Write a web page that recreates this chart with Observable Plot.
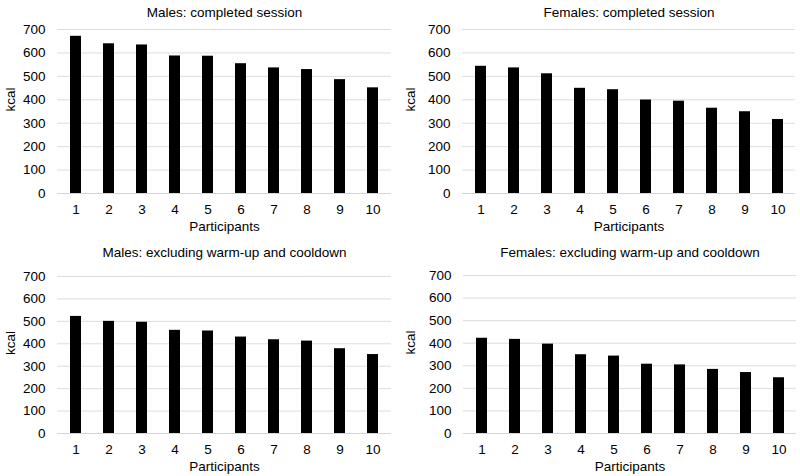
<!DOCTYPE html>
<html>
<head>
<meta charset="utf-8">
<script src="https://cdn.jsdelivr.net/npm/d3@7"></script>
<script src="https://cdn.jsdelivr.net/npm/@observablehq/plot@0.6"></script>
<style>
  html, body { margin: 0; padding: 0; background: #fff; }
  #root { position: relative; width: 800px; height: 476px; font-family: "Liberation Sans", Arial, sans-serif; }
  .panel { position: absolute; }
</style>
</head>
<body>
<div id="root"></div>
<script>
const participants = ["1","2","3","4","5","6","7","8","9","10"];
const malesCompleted = [671, 639, 634, 587, 586, 554, 536, 529, 486, 451];
const femalesCompleted = [543, 536, 511, 449, 443, 399, 394, 364, 349, 316];
const malesExcluding = [522, 500, 496, 460, 457, 430, 418, 412, 378, 352];
const femalesExcluding = [422, 417, 396, 349, 343, 307, 304, 284, 270, 247];
const yTicks = [0, 100, 200, 300, 400, 500, 600, 700];
const titles = [
  "Males: completed session",
  "Females: completed session",
  "Males: excluding warm-up and cooldown",
  "Females: excluding warm-up and cooldown"
];
const yLabel = "kcal";
const xLabel = "Participants";

const panels = [
  {values: malesCompleted, title: titles[0], left: 0, top: 0, height: 238, mt: 29, mb: 45, ml: 57, mr: 9},
  {values: femalesCompleted, title: titles[1], left: 400, top: 0, height: 238, mt: 29, mb: 45, ml: 62, mr: 5},
  {values: malesExcluding, title: titles[2], left: 0, top: 240, height: 236, mt: 36, mb: 43, ml: 57, mr: 9},
  {values: femalesExcluding, title: titles[3], left: 400, top: 240, height: 236, mt: 35, mb: 43, ml: 63, mr: 4}
];

const root = document.getElementById("root");
for (const p of panels) {
  const data = participants.map((k, i) => ({participant: k, kcal: p.values[i]}));
  const chart = Plot.plot({
    width: 400,
    height: p.height,
    marginTop: p.mt,
    marginBottom: p.mb,
    marginLeft: p.ml,
    marginRight: p.mr,
    style: {fontFamily: '"Liberation Sans", Arial, sans-serif', fontSize: "13.5px", color: "#000", background: "transparent"},
    x: {domain: participants, paddingInner: 0.67, paddingOuter: 0.335, label: null},
    y: {domain: [0, 700], label: null},
    marks: [
      Plot.gridY(yTicks, {stroke: "#dcdcdc", strokeOpacity: 1, strokeWidth: 1}),
      Plot.barY(data, {x: "participant", y: "kcal", fill: "#000"}),
      Plot.ruleY([0], {stroke: "#d4d4d4"}),
      Plot.axisY(yTicks, {tickSize: 0, tickPadding: 12, fontSize: 13.5, fill: "#000", label: null}),
      Plot.axisX({tickSize: 0, tickPadding: 11, fontSize: 13.5, fill: "#000", label: null}),
      Plot.text([p.title], {frameAnchor: "top", dy: -(p.mt - 12), fontSize: 13.5, fill: "#000", lineAnchor: "middle"}),
      Plot.text([xLabel], {frameAnchor: "bottom", dy: 33, fontSize: 13.5, fill: "#000", lineAnchor: "middle"}),
      Plot.text([yLabel], {frameAnchor: "left", dx: -(p.ml - 10), rotate: -90, fontSize: 13.5, fill: "#000", lineAnchor: "middle"})
    ]
  });
  const wrap = document.createElement("div");
  wrap.className = "panel";
  wrap.style.left = p.left + "px";
  wrap.style.top = p.top + "px";
  wrap.appendChild(chart);
  root.appendChild(wrap);
}
</script>
</body>
</html>
